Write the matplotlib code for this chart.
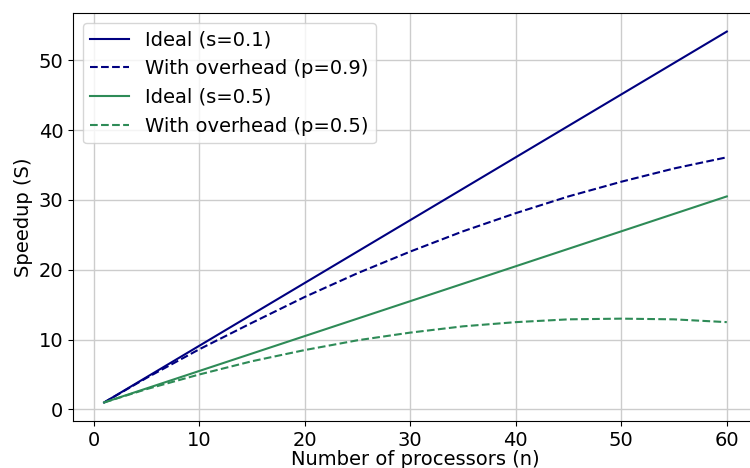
import matplotlib
matplotlib.use("Agg")
import matplotlib.pyplot as plt

# values
n = [1, 5, 10, 15, 20, 25, 30, 35, 40, 45, 50, 55, 60]
ideal_s01 = [1, 4.6, 9.1, 13.6, 18.1, 22.6, 27.1, 31.6, 36.1, 40.6, 45.1, 49.6, 54.1]
overhead_p09 = [1, 4.5, 8.6, 12.4, 16.1, 19.5, 22.6, 25.5, 28.1, 30.5, 32.6, 34.5, 36.1]
ideal_s05 = [1, 3.0, 5.5, 8.0, 10.5, 13.0, 15.5, 18.0, 20.5, 23.0, 25.5, 28.0, 30.5]
overhead_p05 = [1, 2.9, 5.0, 6.9, 8.5, 9.9, 11.0, 11.9, 12.5, 12.9, 13.0, 12.9, 12.5]

fig = plt.figure(figsize=(7.5, 4.68), dpi=100)
# the reference is cropped on the right, so the axes run past the figure edge
ax = fig.add_axes([0.0973, 0.1004, 0.9133, 0.8718])

ax.plot(n, ideal_s01, color='navy', linewidth=1.5, label='Ideal (s=0.1)')
ax.plot(n, overhead_p09, color='navy', linestyle='--', linewidth=1.5, label='With overhead (p=0.9)')
ax.plot(n, ideal_s05, color='seagreen', linewidth=1.5, label='Ideal (s=0.5)')
ax.plot(n, overhead_p05, color='seagreen', linestyle='--', linewidth=1.5, label='With overhead (p=0.5)')

ax.set_xlabel("Number of processors (n)", fontsize=14, labelpad=0)
ax.set_ylabel("Speedup (S)", fontsize=14)
ax.tick_params(labelsize=14)
ax.set_xticks([0, 10, 20, 30, 40, 50, 60])
ax.set_yticks([0, 10, 20, 30, 40, 50])
ax.grid(True, color='#cccccc', linewidth=1)
ax.legend(loc='upper left', fontsize=14)

fig.savefig("out.png", dpi=100)
